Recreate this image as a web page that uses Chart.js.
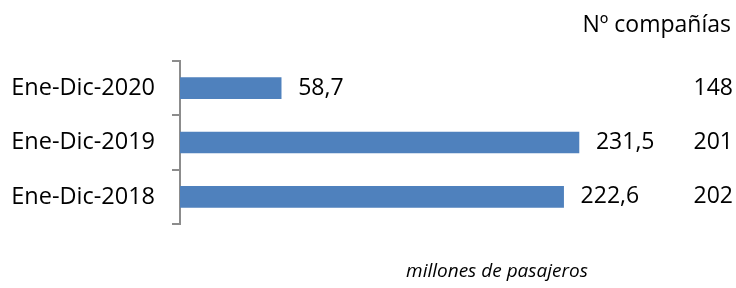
<!DOCTYPE html>
<html>
<head>
<meta charset="utf-8">
<script src="https://cdn.jsdelivr.net/npm/chart.js@4"></script>
<style>
  html, body { margin: 0; padding: 0; background: #fff; }
  #wrap { width: 736px; height: 288px; position: relative; }
</style>
</head>
<body>
<div id="wrap"><canvas id="chart"></canvas></div>
<script>
const periods = ['Ene-Dic-2020', 'Ene-Dic-2019', 'Ene-Dic-2018'];
const passengers = [58.7, 231.5, 222.6];      // millones de pasajeros
const companies = [148, 201, 202];             // Nº compañías
const companiesTitle = 'Nº compañías';
const unitLabel = 'millones de pasajeros';

const FONT = '"Open Sans", "Noto Sans", sans-serif';

const fmt = (v) => v.toFixed(1).replace('.', ',');

// labels next to bars, companies column, headings
const annotations = {
  id: 'annotations',
  afterDatasetsDraw(chart) {
    const { ctx } = chart;
    const x = chart.scales.x;
    const y = chart.scales.y;
    ctx.save();
    ctx.fillStyle = '#000';
    ctx.textBaseline = 'middle';
    ctx.font = '23px ' + FONT;
    passengers.forEach((v, i) => {
      const yc = y.getPixelForValue(i);
      ctx.textAlign = 'left';
      ctx.fillText(fmt(v), x.getPixelForValue(v) + 17, yc);
      ctx.textAlign = 'right';
      ctx.fillText(String(companies[i]), 733, yc);
    });
    ctx.textAlign = 'right';
    ctx.fillText(companiesTitle, 731, 25);
    ctx.font = 'italic 19px ' + FONT;
    ctx.textAlign = 'center';
    ctx.fillText(unitLabel, 497, 272);
    ctx.restore();
  }
};

new Chart(document.getElementById('chart'), {
  type: 'bar',
  data: {
    labels: periods,
    datasets: [{
      data: passengers,
      backgroundColor: '#4F81BD',
      barThickness: 21,
    }],
  },
  options: {
    indexAxis: 'y',
    responsive: true,
    maintainAspectRatio: false,
    animation: false,
    layout: { padding: { top: 61, bottom: 64, left: 0, right: 39 } },
    plugins: {
      legend: { display: false },
      tooltip: { enabled: false },
    },
    scales: {
      x: { display: false, min: 0, max: 300 },
      y: {
        afterFit: (scale) => { scale.width = 180; },
        border: { display: true, color: '#8c8c8c', width: 2 },
        grid: { drawOnChartArea: false, drawTicks: true, tickLength: 8, offset: true, color: '#8c8c8c', lineWidth: 2 },
        ticks: { color: '#000', padding: 17, font: { family: FONT, size: 23.5 } },
      },
    },
  },
  plugins: [annotations],
});
</script>
</body>
</html>
